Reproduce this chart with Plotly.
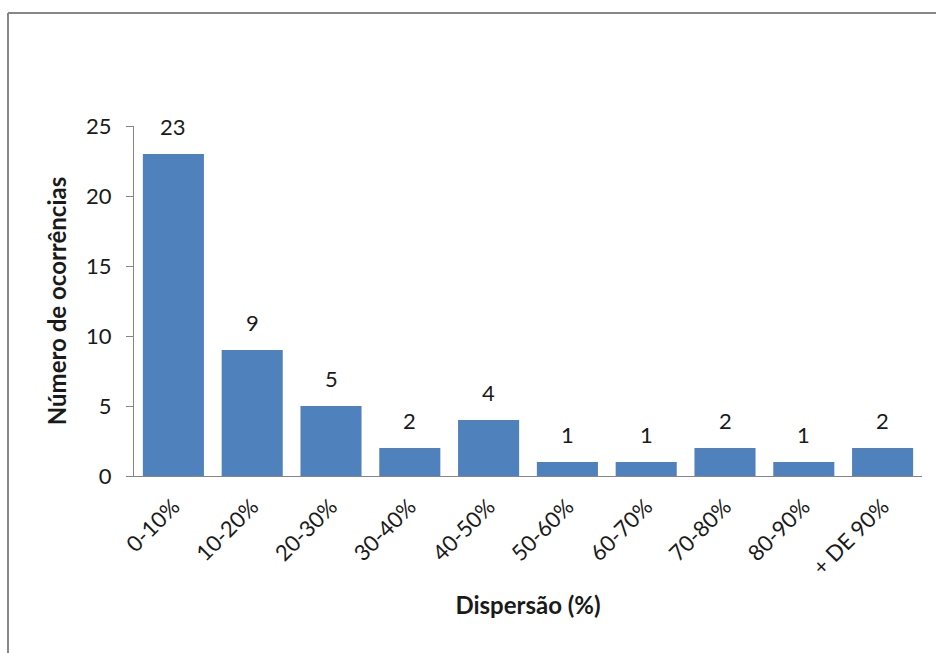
import plotly.graph_objects as go

categories = ["0-10%", "10-20%", "20-30%", "30-40%", "40-50%",
              "50-60%", "60-70%", "70-80%", "80-90%", "+ DE 90%"]
occurrences = [23, 9, 5, 2, 4, 1, 1, 2, 1, 2]
y_ticks = [0, 5, 10, 15, 20, 25]

FONT = "Lato"
BAR = "#4F81BD"
AXIS = "#868686"
TEXT = "#1a1a1a"

W, H = 936, 653
ML, MR, MT, MB = 134, 14, 126, 177
pw, ph = W - ML - MR, H - MT - MB

fig = go.Figure(
    go.Bar(
        x=categories,
        y=occurrences,
        marker=dict(color=BAR, line=dict(width=0)),
        hoverinfo="x+y",
    )
)

# value labels above each bar
for c, v in zip(categories, occurrences):
    fig.add_annotation(
        x=c, y=v, text=str(v), showarrow=False,
        yanchor="bottom", yshift=12,
        font=dict(family=FONT, size=22, color=TEXT),
    )

# chart frame (top and left edges visible)
def px_x(p):
    return (p - ML) / pw

def px_y(p):
    return (H - MB - p) / ph

frame = dict(color="#878787", width=2)
fig.add_shape(type="line", xref="paper", yref="paper",
              x0=px_x(8), y0=px_y(13), x1=px_x(W + 20), y1=px_y(13), line=frame)
fig.add_shape(type="line", xref="paper", yref="paper",
              x0=px_x(8), y0=px_y(13), x1=px_x(8), y1=px_y(H + 20), line=frame)

fig.update_layout(
    width=W, height=H,
    margin=dict(l=ML, r=MR, t=MT, b=MB),
    paper_bgcolor="white", plot_bgcolor="white",
    bargap=0.225,
    showlegend=False,
    font=dict(family=FONT, color=TEXT),
    xaxis=dict(
        tickangle=-45,
        tickfont=dict(family=FONT, size=22, color=TEXT),
        showline=True, linecolor=AXIS, linewidth=1,
        ticks="outside", ticklen=8, tickcolor="rgba(0,0,0,0)",
        showgrid=False,
        title=dict(text="<b>Dispersão (%)</b>", font=dict(family=FONT, size=24, color=TEXT), standoff=18),
    ),
    yaxis=dict(
        range=[0, 25],
        tickvals=y_ticks,
        tickfont=dict(family=FONT, size=22, color=TEXT),
        ticklabelstandoff=10,
        showline=True, linecolor=AXIS, linewidth=1,
        ticks="outside", ticklen=7, tickcolor=AXIS,
        showgrid=False, zeroline=False,
        title=dict(text="<b>Número de ocorrências</b>", font=dict(family=FONT, size=24, color=TEXT), standoff=12),
    ),
)

fig.write_html("out.html")
